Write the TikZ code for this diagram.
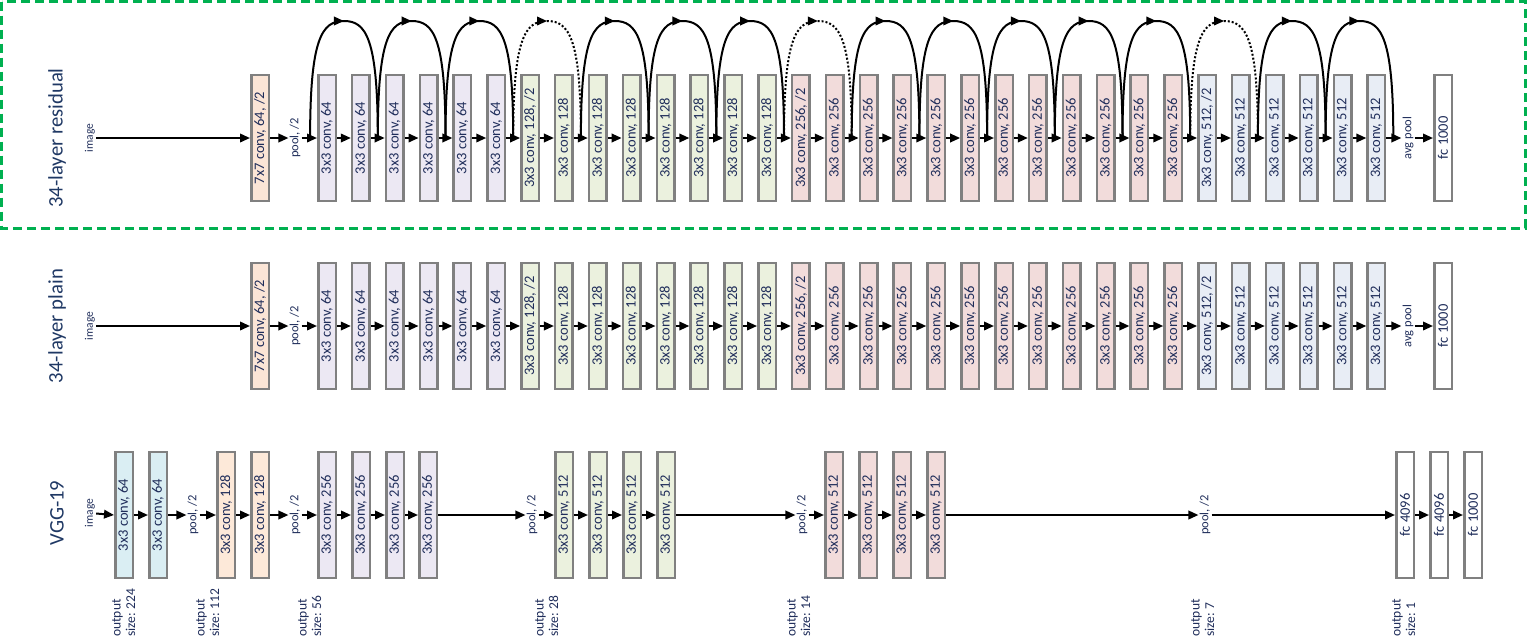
\documentclass[tikz,border=0pt]{standalone}
\usepackage{fontspec}
\setmainfont{Carlito}
\usetikzlibrary{arrows.meta,decorations.markings,calc}
\definecolor{navy}{RGB}{31,45,90}
\definecolor{titlec}{RGB}{31,56,100}
\definecolor{bordc}{RGB}{128,128,128}
\definecolor{c7}{RGB}{251,229,214}
\definecolor{c64}{RGB}{236,232,243}
\definecolor{c128}{RGB}{235,241,222}
\definecolor{c256}{RGB}{242,220,219}
\definecolor{c512}{RGB}{232,237,245}
\definecolor{cv64}{RGB}{218,238,243}
\definecolor{cv128}{RGB}{253,233,217}
\definecolor{grn}{RGB}{0,176,80}
\newcommand{\rt}[1]{\rotatebox{90}{#1}}
\begin{document}
\begin{tikzpicture}[x=1pt,y=-1pt,
  box/.style={draw=bordc,line width=2.5pt,minimum width=17.5pt,minimum height=126pt,inner sep=0pt,text=navy,font=\fontsize{14.5}{16}\selectfont},
  lbl/.style={inner sep=1pt,text=navy,font=\fontsize{12.5}{14}\selectfont},
  imglbl/.style={inner sep=1pt,text=navy,font=\fontsize{11.5}{13}\selectfont},
  title/.style={inner sep=0pt,text=titlec,font=\fontsize{20.7}{22}\selectfont},
  outlbl/.style={inner sep=0pt,anchor=south,text=navy,font=\fontsize{13.5}{14.5}\selectfont},
  arr/.style={line width=2pt,-{Triangle[length=10pt,width=8.5pt]}},
  skipsolid/.style={line width=2pt,postaction={decorate},decoration={markings,mark=at position 0.5 with {\arrow{Triangle[length=10pt,width=8.5pt]}}}},
  skipdot/.style={skipsolid,dash pattern=on 2pt off 2pt}]
\useasboundingbox (0,0) rectangle (1527,641);
% green dashed frame
\draw[grn,line width=3pt,dash pattern=on 9pt off 5pt] (1.5,1.5) rectangle (1525,228);

% ---------- rows: residual (r) and plain (p) ----------
\foreach \rw/\yy/\ttl in {r/138/{34-layer residual},p/326/{34-layer plain}}{
  \node[title] (\rw title) at (57,\yy) {\rt{\ttl}};
  \node[imglbl] (\rw img) at (90,\yy) {\rt{image}};
  \node[box,fill=c7] (\rw c7) at (260,\yy) {\rt{7x7 conv, 64, /2}};
  \node[lbl] (\rw pool) at (295,\yy) {\rt{pool, /2}};
  \foreach \i in {0,...,5}
    \node[box,fill=c64] (\rw\i) at ({327+33.85*\i},\yy) {\rt{3x3 conv, 64}};
  \node[box,fill=c128] (\rw6) at ({327+33.85*6},\yy) {\rt{3x3 conv, 128, /2}};
  \foreach \i in {7,...,13}
    \node[box,fill=c128] (\rw\i) at ({327+33.85*\i},\yy) {\rt{3x3 conv, 128}};
  \node[box,fill=c256] (\rw14) at ({327+33.85*14},\yy) {\rt{3x3 conv, 256, /2}};
  \foreach \i in {15,...,25}
    \node[box,fill=c256] (\rw\i) at ({327+33.85*\i},\yy) {\rt{3x3 conv, 256}};
  \node[box,fill=c512] (\rw26) at ({327+33.85*26},\yy) {\rt{3x3 conv, 512, /2}};
  \foreach \i in {27,...,31}
    \node[box,fill=c512] (\rw\i) at ({327+33.85*\i},\yy) {\rt{3x3 conv, 512}};
  \node[lbl] (\rw avg) at (1408,\yy) {\rt{avg pool}};
  \node[box,fill=white] (\rw fc) at (1443,\yy) {\rt{fc 1000}};
  \draw[arr] (\rw img) -- (\rw c7.west);
  \draw[arr] (\rw c7.east) -- (\rw pool);
  \draw[arr] (\rw pool) -- (\rw0.west);
  \foreach \i [evaluate=\i as \j using int(\i+1)] in {0,...,30}
    \draw[arr] (\rw\i.east) -- (\rw\j.west);
  \draw[arr] (\rw31.east) -- (\rw avg);
  \draw[arr] (\rw avg) -- (\rw fc.west);
}

% shortcut arcs (residual)
\foreach \i in {0,...,32}
  \coordinate (rg\i) at ({310.1+33.85*\i},138);
\foreach \k/\sty in {0/skipsolid,1/skipsolid,2/skipsolid,3/skipdot,4/skipsolid,5/skipsolid,6/skipsolid,7/skipdot,8/skipsolid,9/skipsolid,10/skipsolid,11/skipsolid,12/skipsolid,13/skipdot,14/skipsolid,15/skipsolid}{
  \pgfmathtruncatemacro\a{2*\k}
  \pgfmathtruncatemacro\b{2*\k+2}
  \coordinate (rt\k) at ({310.1+67.7*\k+33.85},21);
  \draw[\sty] (rg\a) .. controls +(0,-100) and +(-22,0) .. (rt\k) .. controls +(22,0) and +(0,-100) .. (rg\b);
}

% ---------- VGG-19 ----------
\node[title] (vtitle) at (57,513) {\rt{VGG-19}};
\node[imglbl] (vimg) at (90,513) {\rt{image}};
\node[box,fill=cv64] (v0) at (124,515) {\rt{3x3 conv, 64}};
\node[box,fill=cv64] (v1) at (158,515) {\rt{3x3 conv, 64}};
\node[lbl] (vp1) at (193,515) {\rt{pool, /2}};
\node[box,fill=cv128] (v2) at (226,515) {\rt{3x3 conv, 128}};
\node[box,fill=cv128] (v3) at (260,515) {\rt{3x3 conv, 128}};
\node[lbl] (vp2) at (295,515) {\rt{pool, /2}};
\foreach \i/\xx in {4/327,5/361,6/395,7/428}
  \node[box,fill=c64] (v\i) at (\xx,515) {\rt{3x3 conv, 256}};
\node[lbl] (vp3) at (532,515) {\rt{pool, /2}};
\foreach \i/\xx in {8/564,9/598,10/632,11/666}
  \node[box,fill=c128] (v\i) at (\xx,515) {\rt{3x3 conv, 512}};
\node[lbl] (vp4) at (802,515) {\rt{pool, /2}};
\foreach \i/\xx in {12/834,13/868,14/902,15/936}
  \node[box,fill=c256] (v\i) at (\xx,515) {\rt{3x3 conv, 512}};
\node[lbl] (vp5) at (1205,515) {\rt{pool, /2}};
\node[box,fill=white] (f1) at (1405,515) {\rt{fc 4096}};
\node[box,fill=white] (f2) at (1439,515) {\rt{fc 4096}};
\node[box,fill=white] (f3) at (1473,515) {\rt{fc 1000}};

\draw[arr] (vimg) -- (v0.west);
\draw[arr] (v0.east) -- (v1.west);
\draw[arr] (v1.east) -- (vp1);
\draw[arr] (vp1) -- (v2.west);
\draw[arr] (v2.east) -- (v3.west);
\draw[arr] (v3.east) -- (vp2);
\draw[arr] (vp2) -- (v4.west);
\draw[arr] (v4.east) -- (v5.west);
\draw[arr] (v5.east) -- (v6.west);
\draw[arr] (v6.east) -- (v7.west);
\draw[arr] (v7.east) -- (vp3);
\draw[arr] (vp3) -- (v8.west);
\draw[arr] (v8.east) -- (v9.west);
\draw[arr] (v9.east) -- (v10.west);
\draw[arr] (v10.east) -- (v11.west);
\draw[arr] (v11.east) -- (vp4);
\draw[arr] (vp4) -- (v12.west);
\draw[arr] (v12.east) -- (v13.west);
\draw[arr] (v13.east) -- (v14.west);
\draw[arr] (v14.east) -- (v15.west);
\draw[arr] (v15.east) -- (vp5);
\draw[arr] (vp5) -- (f1.west);
\draw[arr] (f1.east) -- (f2.west);
\draw[arr] (f2.east) -- (f3.west);

% output size labels
\foreach \nm/\xx/\sz in {o1/125/224,o2/209/112,o3/311/56,o4/548/28,o5/800/14,o6/1204/7,o7/1405/1}
  \node[outlbl] (\nm) at (\xx,637) {\rt{\begin{tabular}{@{}l@{}}output\\size: \sz\end{tabular}}};
\end{tikzpicture}
\end{document}
